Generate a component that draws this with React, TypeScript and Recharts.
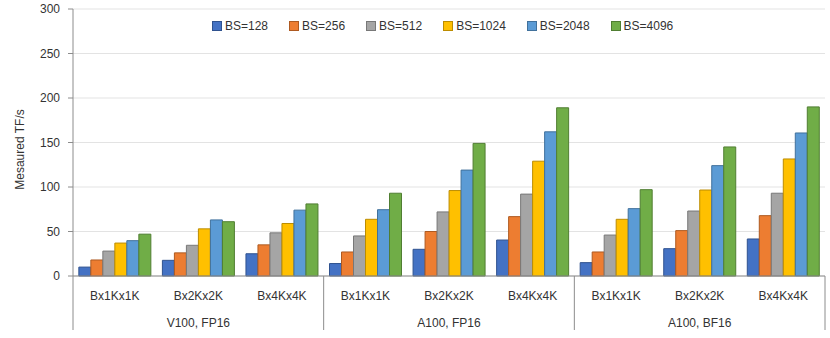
import React from 'react';
import { BarChart, Bar, XAxis, YAxis, CartesianGrid, Label } from 'recharts';

const sizes = ['Bx1Kx1K', 'Bx2Kx2K', 'Bx4Kx4K', 'Bx1Kx1K', 'Bx2Kx2K', 'Bx4Kx4K', 'Bx1Kx1K', 'Bx2Kx2K', 'Bx4Kx4K'];
const groups = ['V100, FP16', 'A100, FP16', 'A100, BF16'];

const bs128 = [10, 17.6, 25, 14, 30, 40.4, 15, 30.7, 41.6];
const bs256 = [18, 26, 35, 27, 50, 66.7, 27, 51, 67.8];
const bs512 = [28, 34.5, 48.5, 45, 72, 92, 46, 73, 93];
const bs1024 = [37, 53, 59, 63.7, 96, 129, 63.7, 96.6, 131.5];
const bs2048 = [39.7, 63, 74, 74.5, 119, 162, 75.7, 124, 160.7];
const bs4096 = [47, 61, 81, 93, 149, 189, 97, 145, 190];

const yTicks = [0, 50, 100, 150, 200, 250, 300];

const series = [
  { key: 'BS=128', values: bs128, fill: '#4472C4', stroke: '#2F528F' },
  { key: 'BS=256', values: bs256, fill: '#ED7D31', stroke: '#AE5A21' },
  { key: 'BS=512', values: bs512, fill: '#A5A5A5', stroke: '#787878' },
  { key: 'BS=1024', values: bs1024, fill: '#FFC000', stroke: '#BC8C00' },
  { key: 'BS=2048', values: bs2048, fill: '#5B9BD5', stroke: '#41719C' },
  { key: 'BS=4096', values: bs4096, fill: '#70AD47', stroke: '#507E32' },
];

const data = sizes.map((size, i) => {
  const row: any = { size, idx: i };
  series.forEach(s => { row[s.key] = s.values[i]; });
  return row;
});

const FONT = '"Liberation Sans", Arial, sans-serif';
const TEXT = '#333';
const W = 830;
const H = 338;
const margin = { top: 9, right: 5, bottom: 0, left: 0 };
const Y_W = 73;
const band = (W - margin.right - margin.left - Y_W) / sizes.length;

const SizeTick = (props: any) => {
  const { x, y, index } = props;
  const g = Math.floor(index / 3);
  return (
    <g>
      <text x={x} y={y + 24} textAnchor="middle" fontSize={12} fill={TEXT} fontFamily={FONT}>
        {sizes[index]}
      </text>
      {index % 3 === 1 && (
        <text x={x} y={y + 51} textAnchor="middle" fontSize={12} fill={TEXT} fontFamily={FONT}>
          {groups[g]}
        </text>
      )}
      {index % 3 === 0 && (
        <line x1={x - band / 2} x2={x - band / 2} y1={y} y2={y + 54} stroke="#8c8c8c" />
      )}
      {index === sizes.length - 1 && (
        <line x1={x + band / 2} x2={x + band / 2} y1={y} y2={y + 54} stroke="#8c8c8c" />
      )}
    </g>
  );
};

const YTitle = (props: any) => {
  const { x, y, height } = props.viewBox;
  const cx = x + 20;
  const cy = y + height / 2 + 7;
  return (
    <text x={cx} y={cy} transform={`rotate(-90, ${cx}, ${cy})`} textAnchor="middle" dominantBaseline="central"
      fontSize={12} fill={TEXT} fontFamily={FONT}>
      Mesaured TF/s
    </text>
  );
};

const ChartLegend = () => (
  <div style={{ position: 'absolute', top: 19, left: 212, display: 'flex', fontFamily: FONT, fontSize: 12, lineHeight: '14px', color: TEXT }}>
    {series.map(s => (
      <div key={s.key} style={{ display: 'flex', alignItems: 'center', marginRight: 21 }}>
        <span style={{ width: 8, height: 8, background: s.fill, border: `1px solid ${s.stroke}`, marginRight: 3 }} />
        <span>{s.key}</span>
      </div>
    ))}
  </div>
);

export default function App() {
  return (
    <div style={{ position: 'absolute', left: 0, top: 0, width: W, height: H, background: '#fff' }}>
      <BarChart width={W} height={H} data={data} margin={margin} barCategoryGap="7%" barGap={0}>
        <CartesianGrid vertical={false} stroke="#e3e3e3" />
        <XAxis
          dataKey="idx"
          height={62}
          interval={0}
          tickLine={false}
          tickSize={0}
          tickMargin={0}
          axisLine={{ stroke: '#8c8c8c' }}
          tick={<SizeTick />}
        />
        <YAxis
          width={Y_W}
          domain={[0, 300]}
          ticks={yTicks}
          interval={0}
          tickSize={5}
          tickMargin={8}
          tickLine={{ stroke: '#8c8c8c' }}
          axisLine={{ stroke: '#8c8c8c' }}
          tick={{ fontSize: 12, fill: TEXT, fontFamily: FONT }}
        >
          <Label content={<YTitle />} />
        </YAxis>
        {series.map(s => (
          <Bar key={s.key} dataKey={s.key} fill={s.fill} stroke={s.stroke} strokeWidth={1} isAnimationActive={false} />
        ))}
      </BarChart>
      <ChartLegend />
    </div>
  );
}
